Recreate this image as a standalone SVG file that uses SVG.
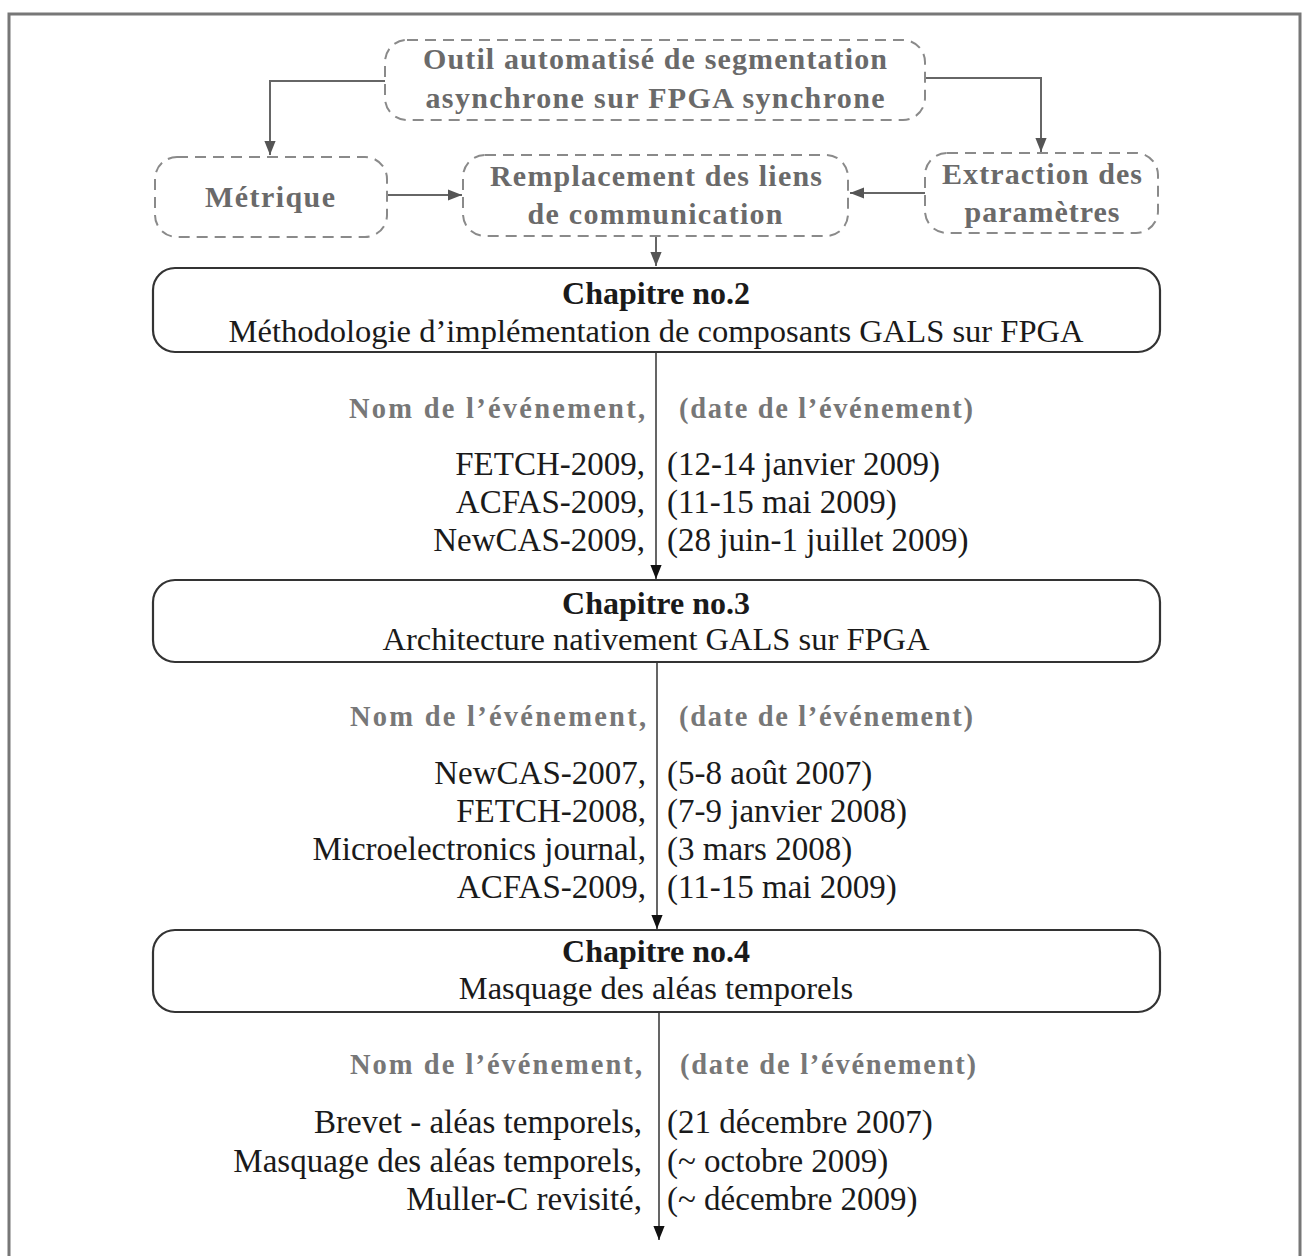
<svg xmlns="http://www.w3.org/2000/svg" width="1305" height="1256" viewBox="0 0 1305 1256">
<defs>
<marker id="ahk" viewBox="0 0 10 10" refX="10" refY="5" markerWidth="14" markerHeight="14" markerUnits="userSpaceOnUse" orient="auto"><path d="M0,1 L10,5 L0,9 z" fill="#111"/></marker>
<marker id="ahg" viewBox="0 0 10 10" refX="10" refY="5" markerWidth="14" markerHeight="14" markerUnits="userSpaceOnUse" orient="auto"><path d="M0,1 L10,5 L0,9 z" fill="#555"/></marker>
</defs>
<style>
.dash{fill:none;stroke:#8a8a8a;stroke-width:2;stroke-dasharray:11 7}
.chap{fill:none;stroke:#333;stroke-width:2.2}
.gt{font-family:"Liberation Serif",serif;font-weight:bold;font-size:30px;fill:#6a6a6a;text-anchor:middle}
.ct{font-family:"Liberation Serif",serif;font-size:32.5px;fill:#1a1a1a;text-anchor:middle}
.cb{font-family:"Liberation Serif",serif;font-weight:bold;font-size:32px;fill:#1a1a1a;text-anchor:middle}
.hl{font-family:"Liberation Serif",serif;font-weight:bold;font-size:28.5px;fill:#777;text-anchor:end}
.hr{font-family:"Liberation Serif",serif;font-weight:bold;font-size:28.5px;fill:#777;text-anchor:start}
.el{font-family:"Liberation Serif",serif;font-size:33px;fill:#1a1a1a;text-anchor:end}
.er{font-family:"Liberation Serif",serif;font-size:33px;fill:#1a1a1a;text-anchor:start}
.cn{fill:none;stroke:#666;stroke-width:2}
.vl{fill:none;stroke:#555;stroke-width:1.8}
</style>
<rect width="1305" height="1256" fill="#fff"/>
<path d="M9,1256 L9,14 L1300,14 L1300,1256" fill="none" stroke="#777" stroke-width="3"/>

<g id="connectors">
<path class="cn" d="M385,81 L270,81 L270,155" marker-end="url(#ahg)"/>
<path class="cn" d="M925,78 L1041,78 L1041,152" marker-end="url(#ahg)"/>
<path class="cn" d="M387,195 L462,195" marker-end="url(#ahg)"/>
<path class="cn" d="M925,193 L850,193" marker-end="url(#ahg)"/>
<path class="cn" d="M656,237 L656,266" marker-end="url(#ahg)"/>
<path class="vl" d="M656,352 L656,579" marker-end="url(#ahk)"/>
<path class="vl" d="M657,662 L657,929" marker-end="url(#ahk)"/>
<path class="vl" d="M659,1012 L659,1240" marker-end="url(#ahk)"/>
</g>

<g id="outil">
<rect class="dash" x="385" y="40" width="540" height="80" rx="22"/>
<text class="gt" x="655" y="69" textLength="464" lengthAdjust="spacing">Outil automatisé de segmentation</text>
<text class="gt" x="655" y="108" textLength="459" lengthAdjust="spacing">asynchrone sur FPGA synchrone</text>
</g>

<g id="metrique">
<rect class="dash" x="155" y="157" width="232" height="80" rx="22"/>
<text class="gt" x="270" y="207" textLength="130" lengthAdjust="spacing">Métrique</text>
</g>

<g id="remplacement">
<rect class="dash" x="463" y="155" width="385" height="81" rx="22"/>
<text class="gt" x="656" y="186" textLength="332" lengthAdjust="spacing">Remplacement des liens</text>
<text class="gt" x="655" y="224" textLength="255" lengthAdjust="spacing">de communication</text>
</g>

<g id="extraction">
<rect class="dash" x="925" y="153" width="233" height="80" rx="22"/>
<text class="gt" x="1042" y="184" textLength="200" lengthAdjust="spacing">Extraction des</text>
<text class="gt" x="1042" y="222" textLength="155" lengthAdjust="spacing">paramètres</text>
</g>

<g id="chap2">
<rect class="chap" x="153" y="268" width="1007" height="84" rx="22"/>
<text class="cb" x="656" y="304">Chapitre no.2</text>
<text class="ct" x="656" y="342" textLength="855" lengthAdjust="spacingAndGlyphs">Méthodologie d’implémentation de composants GALS sur FPGA</text>
</g>

<g id="events2">
<text class="hl" x="645" y="418" textLength="296" lengthAdjust="spacing">Nom de l’événement,</text>
<text class="hr" x="679" y="418" textLength="294" lengthAdjust="spacing">(date de l’événement)</text>
<text class="el" x="645" y="475">FETCH-2009,</text>
<text class="er" x="667" y="475">(12-14 janvier 2009)</text>
<text class="el" x="645" y="513">ACFAS-2009,</text>
<text class="er" x="667" y="513">(11-15 mai 2009)</text>
<text class="el" x="645" y="551">NewCAS-2009,</text>
<text class="er" x="667" y="551">(28 juin-1 juillet 2009)</text>
</g>

<g id="chap3">
<rect class="chap" x="153" y="580" width="1007" height="82" rx="22"/>
<text class="cb" x="656" y="614">Chapitre no.3</text>
<text class="ct" x="656" y="650">Architecture nativement GALS sur FPGA</text>
</g>

<g id="events3">
<text class="hl" x="646" y="726" textLength="296" lengthAdjust="spacing">Nom de l’événement,</text>
<text class="hr" x="679" y="726" textLength="294" lengthAdjust="spacing">(date de l’événement)</text>
<text class="el" x="646" y="784">NewCAS-2007,</text>
<text class="er" x="667" y="784">(5-8 août 2007)</text>
<text class="el" x="646" y="822">FETCH-2008,</text>
<text class="er" x="667" y="822">(7-9 janvier 2008)</text>
<text class="el" x="646" y="860">Microelectronics journal,</text>
<text class="er" x="667" y="860">(3 mars 2008)</text>
<text class="el" x="646" y="898">ACFAS-2009,</text>
<text class="er" x="667" y="898">(11-15 mai 2009)</text>
</g>

<g id="chap4">
<rect class="chap" x="153" y="930" width="1007" height="82" rx="22"/>
<text class="cb" x="656" y="962">Chapitre no.4</text>
<text class="ct" x="656" y="999">Masquage des aléas temporels</text>
</g>

<g id="events4">
<text class="hl" x="642" y="1074" textLength="292" lengthAdjust="spacing">Nom de l’événement,</text>
<text class="hr" x="680" y="1074" textLength="296" lengthAdjust="spacing">(date de l’événement)</text>
<text class="el" x="642" y="1133">Brevet - aléas temporels,</text>
<text class="er" x="667" y="1133">(21 décembre 2007)</text>
<text class="el" x="642" y="1172">Masquage des aléas temporels,</text>
<text class="er" x="667" y="1172">(~ octobre 2009)</text>
<text class="el" x="642" y="1210">Muller-C revisité,</text>
<text class="er" x="667" y="1210">(~ décembre 2009)</text>
</g>
</svg>
